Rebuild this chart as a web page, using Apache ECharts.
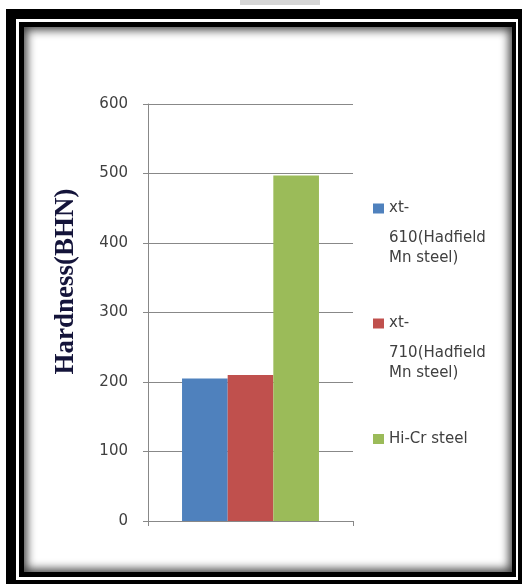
<!DOCTYPE html>
<html>
<head>
<meta charset="utf-8">
<script src="https://cdn.jsdelivr.net/npm/echarts@6/dist/echarts.min.js"></script>
<style>
  html, body { margin: 0; padding: 0; background: #fff; width: 525px; height: 584px; overflow: hidden; }
  .f { position: absolute; }
  #f1 { left: 6px; top: 9px; width: 516px; height: 575px; background: #000; }
  #f2 { left: 16px; top: 19px; width: 502px; height: 561px; background: #fff; }
  #f3 { left: 19px; top: 22px; width: 497px; height: 555px; background: #000; }
  #f4 { left: 24px; top: 27px; width: 488px; height: 545px; background: #fff; box-shadow: inset 0 0 10px 3px rgba(0,0,0,0.75); }
  #hl { left: 240px; top: 0px; width: 80px; height: 5px; background: #d6d6d6; }
  #chart { position: absolute; left: 0; top: 0; width: 525px; height: 584px; }
</style>
</head>
<body>
<div class="f" id="hl"></div>
<div class="f" id="f1"></div>
<div class="f" id="f2"></div>
<div class="f" id="f3"></div>
<div class="f" id="f4"></div>
<div id="chart"></div>
<script>
// ---- data ----
const categories = [''];
const seriesNames = ['xt-610(Hadfield Mn steel)', 'xt-710(Hadfield Mn steel)', 'Hi-Cr steel'];
const legendLines = [
  ['xt-', '610(Hadfield', 'Mn steel)'],
  ['xt-', '710(Hadfield', 'Mn steel)'],
  ['Hi-Cr steel']
];
const hardness = [205, 210, 497];
const seriesColors = ['#4F81BD', '#C0504D', '#9BBB59'];
const yMin = 0, yMax = 600, yStep = 100;
const yTitle = 'Hardness(BHN)';

// ---- chart ----
const sans = 'DejaVu Sans';
const txtColor = '#404040';
const axisGray = '#888888';

function legendFormatter(name) {
  const lines = legendLines[seriesNames.indexOf(name)];
  if (lines.length === 1) return lines[0];
  return '{a|' + lines[0] + '}\n{b|' + lines[1] + '}\n{c|' + lines[2] + '}';
}
const richStyle = {
  a: { fontFamily: sans, fontSize: 15, color: txtColor, lineHeight: 40 },
  b: { fontFamily: sans, fontSize: 15, color: txtColor, lineHeight: 20 },
  c: { fontFamily: sans, fontSize: 15, color: txtColor, lineHeight: 20 }
};
const legendTops = [201, 316, 429];
const legends = seriesNames.map((n, i) => ({
  data: [n],
  left: 373,
  top: legendTops[i],
  padding: 0,
  itemWidth: 11,
  itemHeight: 10,
  icon: 'rect',
  orient: 'vertical',
  selectedMode: false,
  formatter: legendFormatter,
  textStyle: legendLines[i].length > 1
    ? { fontFamily: sans, fontSize: 15, color: txtColor, padding: [40, 0, 0, 0], rich: richStyle }
    : { fontFamily: sans, fontSize: 15, color: txtColor, lineHeight: 20 }
}));

const chart = echarts.init(document.getElementById('chart'), null, { renderer: 'canvas' });
chart.setOption({
  backgroundColor: 'transparent',
  animation: false,
  legend: legends,
  grid: { left: 148, right: 172, top: 104, bottom: 63, containLabel: false },
  xAxis: {
    type: 'category',
    data: categories,
    axisLine: { show: true, lineStyle: { color: axisGray, width: 1 } },
    axisTick: { show: true, length: 5, lineStyle: { color: axisGray } },
    axisLabel: { show: false },
    splitLine: { show: false }
  },
  yAxis: {
    type: 'value',
    min: yMin, max: yMax, interval: yStep,
    name: yTitle,
    nameLocation: 'middle',
    nameRotate: 90,
    nameGap: 68,
    nameTextStyle: {
      fontFamily: 'Liberation Serif', fontWeight: 'bold', fontSize: 27, color: '#14143a',
      padding: [0, 0, 0, 62]
    },
    axisLine: { show: true, lineStyle: { color: axisGray, width: 1 } },
    axisTick: { show: true, length: 5, lineStyle: { color: axisGray } },
    axisLabel: { margin: 20, fontFamily: sans, fontSize: 15, color: txtColor },
    splitLine: { show: true, lineStyle: { color: axisGray, width: 1 } }
  },
  series: seriesNames.map((n, i) => ({
    name: n,
    type: 'bar',
    data: [hardness[i]],
    barGap: '0%',
    barCategoryGap: '33.2%',
    itemStyle: { color: seriesColors[i] }
  }))
});
</script>
</body>
</html>
